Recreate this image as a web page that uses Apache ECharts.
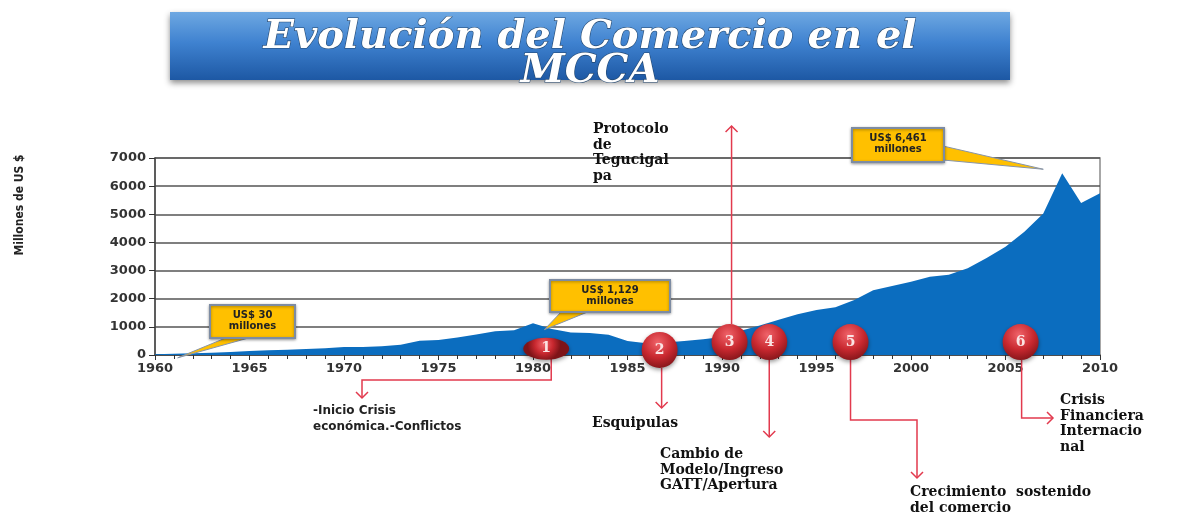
<!DOCTYPE html>
<html>
<head>
<meta charset="utf-8">
<script src="https://cdn.jsdelivr.net/npm/echarts@6/dist/echarts.min.js"></script>
<style>
  html, body { margin: 0; padding: 0; background: #fff; }
  #chart { width: 1177px; height: 512px; }
</style>
</head>
<body>
<div id="chart"></div>
<script>
// ------------------------------
// DATA
// ------------------------------
const years = [1960, 1961, 1962, 1963, 1964, 1965, 1966, 1967, 1968, 1969,
  1970, 1971, 1972, 1973, 1974, 1975, 1976, 1977, 1978, 1979,
  1980, 1981, 1982, 1983, 1984, 1985, 1986, 1987, 1988, 1989,
  1990, 1991, 1992, 1993, 1994, 1995, 1996, 1997, 1998, 1999,
  2000, 2001, 2002, 2003, 2004, 2005, 2006, 2007, 2008, 2009, 2010];

// Millones de US$
const trade = [30, 40, 60, 80, 110, 140, 170, 190, 210, 240,
  280, 280, 310, 360, 510, 530, 620, 730, 840, 880,
  1129, 920, 800, 780, 720, 500, 420, 440, 500, 560,
  640, 860, 1050, 1250, 1450, 1600, 1700, 1950, 2300, 2450,
  2600, 2780, 2850, 3080, 3450, 3850, 4380, 5030, 6461, 5400, 5750];

// numbered events on the time line
const eventYears = [1980.7, 1986.7, 1990.4, 1992.5, 1996.8, 2005.8];
const eventLevels = [220, 180, 460, 460, 460, 460];
const eventNotes = [
  "-Inicio Crisis\neconómica.-Conflictos",
  "Esquipulas",
  "Protocolo\nde\nTegucigal\npa",
  "Cambio de\nModelo/Ingreso\nGATT/Apertura",
  "Crecimiento  sostenido\ndel comercio",
  "Crisis\nFinanciera\nInternacio\nnal"
];

// yellow callouts (tip points in data units)
const calloutTexts = ["US$ 30\nmillones", "US$ 1,129\nmillones", "US$ 6,461\nmillones"];
const calloutYears = [1961.2, 1980.6, 2007.0];
const calloutValues = [-100, 900, 6600];

// ------------------------------
// CHART
// ------------------------------
const chart = echarts.init(document.getElementById("chart"));
const RED = "#e23a4e";
const SERIF = '"DejaVu Serif", serif';
const SANS = '"DejaVu Sans", sans-serif';

chart.setOption({
  animation: false,
  grid: { left: 155, right: 77, top: 158, bottom: 157, show: true, borderColor: "#8a8a8a", borderWidth: 1.5 },
  xAxis: {
    type: "value", min: 1960, max: 2010, interval: 5,
    axisLine: { lineStyle: { color: "#444", width: 1.5 } },
    axisTick: { length: 5, lineStyle: { color: "#333" } },
    minorTick: { show: true, splitNumber: 5, length: 4, lineStyle: { color: "#333" } },
    splitLine: { show: false },
    axisLabel: { fontFamily: SANS, fontWeight: "bold", fontSize: 13, color: "#333", margin: 7, formatter: v => String(v) }
  },
  yAxis: {
    type: "value", min: 0, max: 7000, interval: 1000,
    axisLine: { show: true, lineStyle: { color: "#444", width: 1.5 } },
    axisTick: { show: true, length: 6, lineStyle: { color: "#333" } },
    splitLine: { lineStyle: { color: "#555", width: 1.5 } },
    axisLabel: { fontFamily: SANS, fontWeight: "bold", fontSize: 13, color: "#333", margin: 9, formatter: v => String(v) }
  },
  series: [{
    type: "line",
    data: years.map((y, i) => [y, trade[i]]),
    symbol: "none",
    lineStyle: { width: 0 },
    areaStyle: { color: "#0b6dbf", opacity: 1 }
  }]
});

// ------------------------------
// ANNOTATIONS
// ------------------------------
let px = (x, y) => chart.convertToPixel({ gridIndex: 0 }, [x, y]);

let arrowHead = (end, dir) => {
  const [x, y] = end, s = 6;
  let pts;
  if (dir === "down") pts = [[x - s, y - s], [x, y], [x + s, y - s]];
  else if (dir === "up") pts = [[x - s, y + s], [x, y], [x + s, y + s]];
  else pts = [[x - s, y - s], [x, y], [x - s, y + s]];
  return { type: "polyline", z: 20, shape: { points: pts }, style: { stroke: RED, lineWidth: 1.5, fill: null } };
};

let noteText = (text, x, y, opts) => ({
  type: "text", z: 20, x: x, y: y,
  style: Object.assign({
    text: text, fill: "#111", font: "bold 14px " + SERIF, lineHeight: 15.5
  }, opts || {})
});

const ball = eventYears.map((yr, i) => px(yr, eventLevels[i]));
const g = [];

// title banner
g.push({
  type: "rect", z: 5,
  shape: { x: 170, y: 12, width: 840, height: 68 },
  style: {
    fill: { type: "linear", x: 0, y: 0, x2: 0, y2: 1,
      colorStops: [{ offset: 0, color: "#6ea8e2" }, { offset: 0.45, color: "#3f82d0" }, { offset: 1, color: "#1d58a4" }] },
    shadowBlur: 6, shadowColor: "rgba(0,0,0,0.45)", shadowOffsetY: 3
  }
});
["Evolución del Comercio en el", "MCCA"].forEach((t, i) => {
  g.push({
    type: "text", z: 6, x: 590, y: i === 0 ? 38 : 72,
    style: {
      text: t, font: "italic bold 40px " + SERIF, fill: "#fff",
      stroke: "#23476f", lineWidth: 1.2, align: "center", verticalAlign: "middle",
      shadowBlur: 3, shadowColor: "rgba(0,0,0,0.6)", shadowOffsetX: 1, shadowOffsetY: 2
    }
  });
});

// y axis name
g.push({
  type: "text", z: 10, x: 20, y: 205, rotation: Math.PI / 2,
  style: { text: "Millones de US $", font: 'bold 12px "Liberation Sans Narrow", "DejaVu Sans Condensed", sans-serif',
    fill: "#222", align: "center", verticalAlign: "middle" }
});

// callouts
const boxes = [[210, 305, 85, 33], [550, 280, 120, 32], [852, 128, 92, 34]];
const bases = [[[228, 337], [252, 337]], [[562, 311], [590, 311]], [[943, 146], [943, 160]]];
calloutTexts.forEach((t, i) => {
  const tip = px(calloutYears[i], calloutValues[i]);
  const [bx, by, bw, bh] = boxes[i];
  g.push({
    type: "polygon", z: 14, shape: { points: [bases[i][0], tip, bases[i][1]] },
    style: { fill: "#ffc000", stroke: "#8794a8", lineWidth: 1 }
  });
  g.push({
    type: "rect", z: 15, shape: { x: bx, y: by, width: bw, height: bh },
    style: { fill: "#ffc000", stroke: "#7d8ca3", lineWidth: 2, shadowBlur: 3, shadowColor: "rgba(0,0,0,0.35)", shadowOffsetY: 1 }
  });
  g.push({
    type: "text", z: 16, x: bx + bw / 2, y: by + 5,
    style: { text: t, font: "bold 10px " + SANS, fill: "#222", align: "center", verticalAlign: "top", lineHeight: 11 }
  });
});

// event lines, arrows and notes
const [b1, b2, b3, b4, b5, b6] = ball;
const paths = [
  [[b1[0] + 5, b1[1] + 10], [b1[0] + 5, 380], [362, 380], [362, 398]],
  [[b2[0] + 2, b2[1] + 18], [b2[0] + 2, 408]],
  [[b3[0] + 2, b3[1] - 18], [b3[0] + 2, 126]],
  [[b4[0], b4[1] + 18], [b4[0], 437]],
  [[b5[0], b5[1] + 18], [b5[0], 420], [917, 420], [917, 478]],
  [[b6[0] + 1, b6[1] + 18], [b6[0] + 1, 418], [1053, 418]]
];
const dirs = ["down", "down", "up", "down", "down", "right"];
paths.forEach((p, i) => {
  g.push({ type: "polyline", z: 19, shape: { points: p }, style: { stroke: RED, lineWidth: 1.5, fill: null } });
  g.push(arrowHead(p[p.length - 1], dirs[i]));
});

g.push(noteText(eventNotes[0], 313, 403, { font: "bold 12px " + SANS, lineHeight: 16, fill: "#222" }));
g.push(noteText(eventNotes[1], 592, 416));
g.push(noteText(eventNotes[2], 593, 122));
g.push(noteText(eventNotes[3], 660, 447));
g.push(noteText(eventNotes[4], 910, 484, { lineHeight: 16 }));
g.push(noteText(eventNotes[5], 1060, 393));

// numbered red balls
const ballFill = {
  type: "radial", x: 0.45, y: 0.3, r: 0.75,
  colorStops: [{ offset: 0, color: "#f0646a" }, { offset: 0.55, color: "#c8282f" }, { offset: 1, color: "#7e1418" }]
};
ball.forEach((p, i) => {
  const shape = i === 0
    ? { type: "ellipse", shape: { cx: p[0], cy: p[1], rx: 23, ry: 11 } }
    : { type: "circle", shape: { cx: p[0], cy: p[1], r: 18 } };
  g.push(Object.assign(shape, {
    z: 21, style: { fill: ballFill, shadowBlur: 4, shadowColor: "rgba(0,0,0,0.4)", shadowOffsetY: 2 }
  }));
  g.push({
    type: "text", z: 22, x: p[0], y: p[1],
    style: { text: String(i + 1), font: "bold 14px " + SERIF, fill: "#fbe3e3", align: "center", verticalAlign: "middle" }
  });
});

chart.setOption({ graphic: g });
</script>
</body>
</html>
